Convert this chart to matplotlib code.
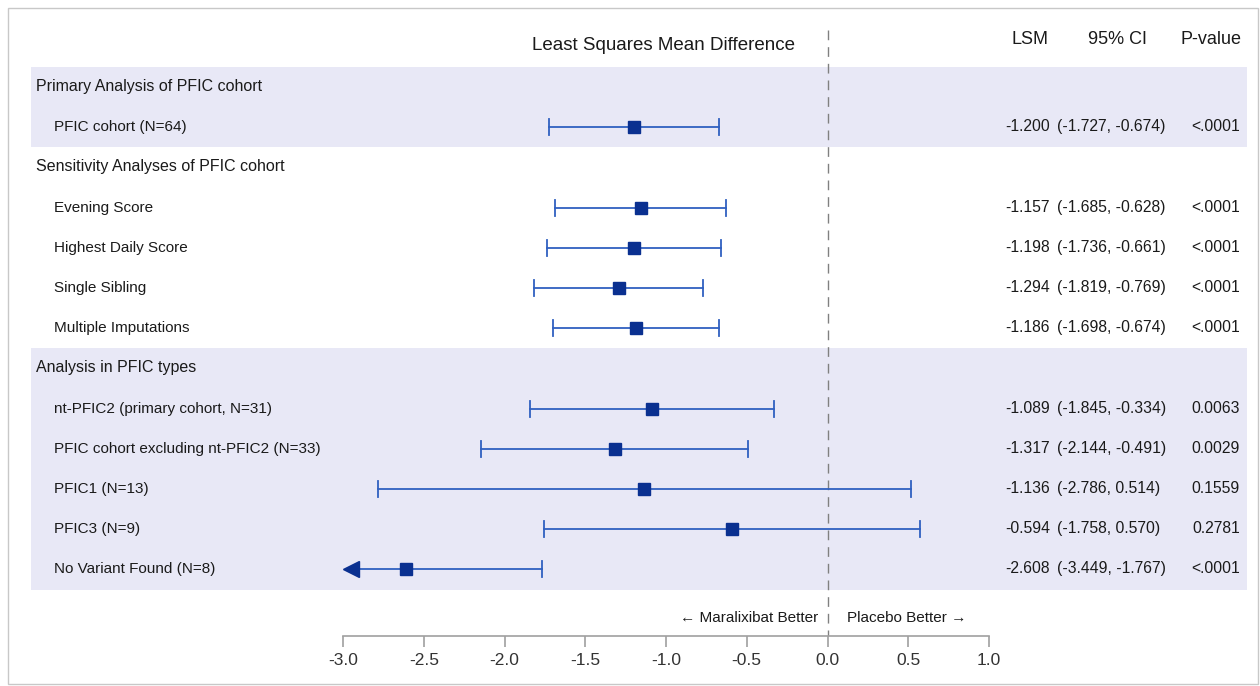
import matplotlib
matplotlib.use("Agg")
import matplotlib.pyplot as plt
from matplotlib.patches import Rectangle

plt.rcParams['font.family'] = ['Liberation Sans', 'DejaVu Sans']

# Rows of the forest plot, top to bottom. Section headers carry no estimate.
row_labels = [
    "Primary Analysis of PFIC cohort",
    "PFIC cohort (N=64)",
    "Sensitivity Analyses of PFIC cohort",
    "Evening Score",
    "Highest Daily Score",
    "Single Sibling",
    "Multiple Imputations",
    "Analysis in PFIC types",
    "nt-PFIC2 (primary cohort, N=31)",
    "PFIC cohort excluding nt-PFIC2 (N=33)",
    "PFIC1 (N=13)",
    "PFIC3 (N=9)",
    "No Variant Found (N=8)",
]
is_header = [True, False, True, False, False, False, False, True,
             False, False, False, False, False]
lsm = [None, -1.200, None, -1.157, -1.198, -1.294, -1.186, None,
       -1.089, -1.317, -1.136, -0.594, -2.608]
ci_low = [None, -1.727, None, -1.685, -1.736, -1.819, -1.698, None,
          -1.845, -2.144, -2.786, -1.758, -3.449]
ci_high = [None, -0.674, None, -0.628, -0.661, -0.769, -0.674, None,
           -0.334, -0.491, 0.514, 0.570, -1.767]
p_values = [None, "<.0001", None, "<.0001", "<.0001", "<.0001", "<.0001", None,
            "0.0063", "0.0029", "0.1559", "0.2781", "<.0001"]

x_ticks = [-3.0, -2.5, -2.0, -1.5, -1.0, -0.5, 0.0, 0.5, 1.0]
x_min, x_max = -3.0, 1.0

W, H = 1260, 686
fig = plt.figure(figsize=(W / 100, H / 100), dpi=100)
fig.patch.set_facecolor("white")

# Thin grey frame around the whole graphic
fig.add_artist(Rectangle((8 / W, 2 / H), (W - 10) / W, (H - 10) / H,
                         transform=fig.transFigure, fill=False,
                         edgecolor="#c8c8c8", linewidth=1.0))

# Plot area: x in data units, y in pixel rows (top = small)
ax_left, ax_right, ax_top, ax_bottom = 343, 989, 20, 636
ax = fig.add_axes([ax_left / W, 1 - ax_bottom / H,
                   (ax_right - ax_left) / W, (ax_bottom - ax_top) / H])
ax.set_xlim(x_min, x_max)
ax.set_ylim(ax_bottom, ax_top)
ax.patch.set_alpha(0)

px_per_unit = (ax_right - ax_left) / (x_max - x_min)


def px2x(px):
    return x_min + (px - ax_left) / px_per_unit


row_y0, row_step = 87, 40.2
row_y = [row_y0 + row_step * i for i in range(len(row_labels))]

band_color = "#e8e8f6"
# shaded section bands
for first, last in [(0, 1), (7, 12)]:
    top = row_y[first] - row_step / 2
    bottom = row_y[last] + row_step / 2
    ax.add_patch(Rectangle((px2x(31), top), px2x(1247) - px2x(31), bottom - top,
                           facecolor=band_color, edgecolor="none",
                           clip_on=False, zorder=0))

# reference line at zero
ax.plot([0, 0], [30, ax_bottom], color="#808080", linestyle=(0, (7, 5)),
        linewidth=1.0, zorder=1, clip_on=False)

line_color = "#3060c0"
marker_color = "#0a3090"
text_color = "#1a1a1a"
cap_half = 8
value_size = 11.3
text_dy = 4  # baseline offset below row centre

for i, y in enumerate(row_y):
    indent = 36 if is_header[i] else 54
    ax.text(px2x(indent), y + text_dy, row_labels[i], ha="left",
            va="baseline", fontsize=11.5 if is_header[i] else 11,
            color=text_color, clip_on=False)
    if lsm[i] is None:
        continue
    lo, hi = ci_low[i], ci_high[i]
    lo_clipped = lo < x_min
    lo_draw = px2x(ax_left + 8) if lo_clipped else lo
    ax.plot([lo_draw, hi], [y, y], color=line_color, linewidth=1.3, zorder=2)
    ax.plot([hi, hi], [y - cap_half, y + cap_half], color=line_color,
            linewidth=1.3, zorder=2)
    if lo_clipped:
        ax.plot([lo_draw], [y], marker="<", markersize=11, color=marker_color,
                linestyle="none", zorder=3, clip_on=False)
    else:
        ax.plot([lo, lo], [y - cap_half, y + cap_half], color=line_color,
                linewidth=1.3, zorder=2)
    ax.plot([lsm[i]], [y], marker="s", markersize=8, color=marker_color,
            linestyle="none", zorder=3)
    ax.text(px2x(1050), y + text_dy, f"{lsm[i]:.3f}", ha="right",
            va="baseline", fontsize=value_size, color=text_color, clip_on=False)
    ax.text(px2x(1057), y + text_dy, f"({lo:.3f}, {hi:.3f})", ha="left",
            va="baseline", fontsize=value_size, color=text_color, clip_on=False)
    ax.text(px2x(1240), y + text_dy, p_values[i], ha="right",
            va="baseline", fontsize=value_size, color=text_color, clip_on=False)

# column headers
ax.text(px2x(664), 45, "Least Squares Mean Difference", ha="center",
        va="center", fontsize=13.5, color=text_color, clip_on=False)
ax.text(px2x(1030), 40, "LSM", ha="center", va="center", fontsize=13,
        color=text_color, clip_on=False)
ax.text(px2x(1117), 40, "95% CI", ha="center", va="center", fontsize=13,
        color=text_color, clip_on=False)
ax.text(px2x(1211), 40, "P-value", ha="center", va="center", fontsize=13,
        color=text_color, clip_on=False)

# direction annotations
ax.text(px2x(818), 622, "\u2190 Maralixibat Better", ha="right",
        va="baseline", fontsize=11, color=text_color, clip_on=False)
ax.text(px2x(847), 622, "Placebo Better \u2192", ha="left",
        va="baseline", fontsize=11, color=text_color, clip_on=False)

# bottom axis only
for side in ["top", "right", "left"]:
    ax.spines[side].set_visible(False)
ax.spines["bottom"].set_color("#a0a0a0")
ax.spines["bottom"].set_linewidth(1.2)
ax.set_yticks([])
ax.set_xticks(x_ticks)
ax.set_xticklabels([f"{t:.1f}" for t in x_ticks])
ax.tick_params(axis="x", direction="out", length=8, width=1.2,
               colors="#a0a0a0", labelcolor="#333333", labelsize=12.5, pad=4)

fig.savefig("out.png", dpi=100, facecolor="white")
